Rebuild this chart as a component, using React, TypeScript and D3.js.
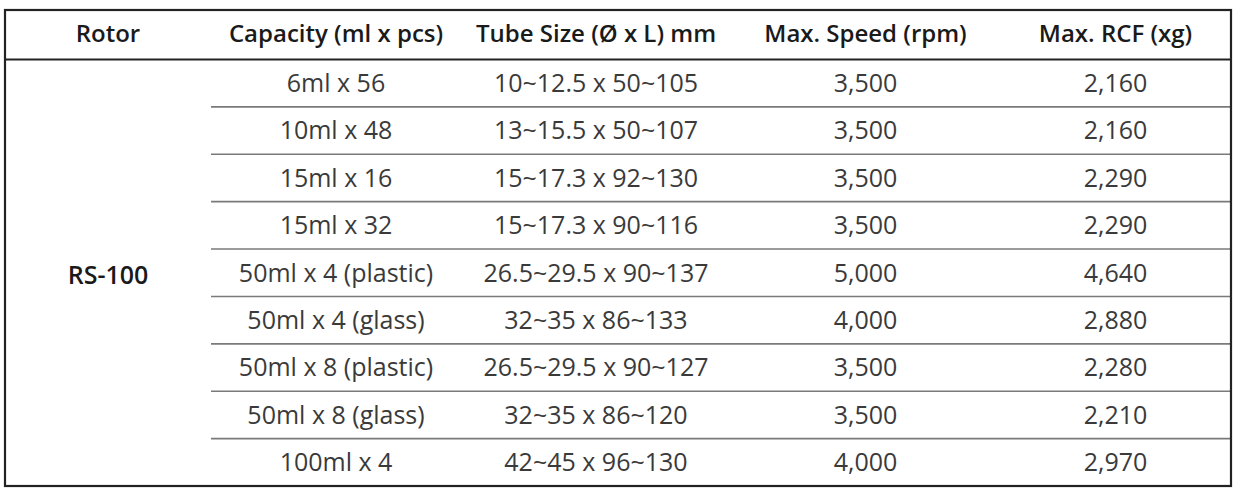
import * as d3 from 'd3'

const headers = ['Rotor', 'Capacity (ml x pcs)', 'Tube Size (Ø x L) mm', 'Max. Speed (rpm)', 'Max. RCF (xg)']
const rotor = 'RS-100'
const capacities = [
  '6ml x 56',
  '10ml x 48',
  '15ml x 16',
  '15ml x 32',
  '50ml x 4 (plastic)',
  '50ml x 4 (glass)',
  '50ml x 8 (plastic)',
  '50ml x 8 (glass)',
  '100ml x 4',
]
const tubeSizes = [
  '10~12.5 x 50~105',
  '13~15.5 x 50~107',
  '15~17.3 x 92~130',
  '15~17.3 x 90~116',
  '26.5~29.5 x 90~137',
  '32~35 x 86~133',
  '26.5~29.5 x 90~127',
  '32~35 x 86~120',
  '42~45 x 96~130',
]
const maxSpeeds = [3500, 3500, 3500, 3500, 5000, 4000, 3500, 3500, 4000]
const maxRcf = [2160, 2160, 2290, 2290, 4640, 2880, 2280, 2210, 2970]

export default function App() {
  const width = 1237
  const height = 492
  // relative widths of the five columns
  const colWidths = [206, 250, 270, 269, 231]
  const colEdges = d3.cumsum([0, ...colWidths])
  const x = d3.scaleLinear().domain([0, d3.sum(colWidths)]).range([5, 1231])
  const top = 10
  const headerBottom = 59.5
  const bottom = 486
  const y = d3
    .scaleBand<number>()
    .domain(d3.range(capacities.length))
    .range([headerBottom, bottom])

  const fmt = d3.format(',')
  const rows = capacities.map((c, i) => [c, tubeSizes[i], fmt(maxSpeeds[i]), fmt(maxRcf[i])])
  const font = "'Open Sans', 'Noto Sans', sans-serif"
  const colCenter = (i: number) => (x(colEdges[i]) + x(colEdges[i + 1])) / 2

  return (
    <div style={{ position: 'fixed', left: 0, top: 0, background: '#fff' }}>
      <svg width={width} height={height} fontFamily={font}>
        <rect width={width} height={height} fill="#fff" />

        {/* horizontal row lines */}
        {d3.range(1, capacities.length).map((i) => (
          <line
            key={`h${i}`}
            x1={x(colEdges[1])}
            x2={x(colEdges[5])}
            y1={y(i)!}
            y2={y(i)!}
            stroke="#7a7a7a"
            strokeWidth={1.6}
          />
        ))}
        <line x1={x(0)} x2={x(colEdges[5])} y1={headerBottom} y2={headerBottom} stroke="#222" strokeWidth={2} />

        {/* vertical column lines */}
        {colEdges.slice(1, 5).map((e, i) => (
          <line key={`v${i}`} x1={x(e)} x2={x(e)} y1={top} y2={bottom} stroke="#333" strokeWidth={1.6} />
        ))}

        <rect
          x={x(0)}
          y={top}
          width={x(colEdges[5]) - x(0)}
          height={bottom - top}
          fill="none"
          stroke="#222"
          strokeWidth={2.2}
        />

        {headers.map((h, i) => (
          <text
            key={h}
            x={colCenter(i)}
            y={(top + headerBottom) / 2 - 1}
            dy="0.35em"
            textAnchor="middle"
            fontSize={24}
            fontWeight={600}
            fill="#1a1a1a"
          >
            {h}
          </text>
        ))}

        <text
          x={colCenter(0)}
          y={(headerBottom + bottom) / 2 + 2}
          dy="0.35em"
          textAnchor="middle"
          fontSize={25}
          fontWeight={600}
          fill="#1a1a1a"
        >
          {rotor}
        </text>

        {rows.map((r, i) =>
          r.map((cell, j) => (
            <text
              key={`${i}-${j}`}
              x={colCenter(j + 1)}
              y={y(i)! + y.bandwidth() / 2}
              dy="0.35em"
              textAnchor="middle"
              fontSize={25}
              fill="#3a3a3a"
            >
              {cell}
            </text>
          )),
        )}
      </svg>
    </div>
  )
}
